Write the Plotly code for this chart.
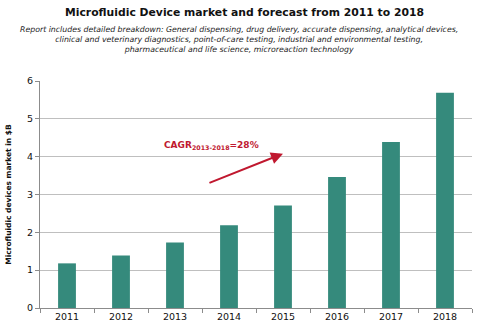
import plotly.graph_objects as go

years = ["2011", "2012", "2013", "2014", "2015", "2016", "2017", "2018"]
market = [1.18, 1.39, 1.73, 2.19, 2.71, 3.46, 4.39, 5.69]
y_ticks = [0, 1, 2, 3, 4, 5, 6]

bar_color = "#358A7C"
red = "#C0182F"

fig = go.Figure(go.Bar(x=years, y=market, marker_color=bar_color, marker_line_width=0))

fig.update_layout(
    width=480, height=334,
    margin=dict(l=40, r=8, t=81, b=26),
    paper_bgcolor="white", plot_bgcolor="white",
    bargap=0.67,
    showlegend=False,
    font=dict(family="DejaVu Sans", color="#222222"),
)
fig.update_xaxes(
    showline=True, linecolor="#8C8C8C", linewidth=1,
    ticks="outside", tickson="boundaries", ticklen=4, tickcolor="#8C8C8C",
    tickfont=dict(size=9.5, color="#111111"), showgrid=False,
)
fig.update_yaxes(
    range=[0, 6], tickvals=y_ticks, showline=True, linecolor="#8C8C8C", linewidth=1,
    ticks="outside", ticklen=4, tickcolor="#8C8C8C",
    gridcolor="#BFBFBF", gridwidth=1, zeroline=False,
    tickfont=dict(size=9.5, color="#111111"),
    title=dict(text="<b>Microfluidic devices market in $B</b>", font=dict(size=7.5, color="#111111"), standoff=14),
)

fig.add_annotation(
    xref="paper", yref="paper", x=0.5, y=1, yanchor="middle", xanchor="center",
    yshift=69, xshift=-12,
    text="<b>Microfluidic Device market and forecast from 2011 to 2018</b>",
    showarrow=False, font=dict(size=10.8, color="#111111"),
)
fig.add_annotation(
    xref="paper", yref="paper", x=0.5, y=1, yanchor="middle", xanchor="center",
    xshift=-17, yshift=42,
    text=("<i>Report includes detailed breakdown: General dispensing, drug delivery, accurate dispensing, analytical devices,<br>"
          "clinical and veterinary diagnostics, point-of-care testing, industrial and environmental testing,<br>"
          "pharmaceutical and life science, microreaction technology</i>"),
    showarrow=False, align="center", font=dict(size=7.8, color="#222222"),
)
# arrow
fig.add_annotation(
    x=4.0, y=4.08, ax=2.61, ay=3.29, xref="x", yref="y", axref="x", ayref="y",
    text="", showarrow=True, arrowhead=2, arrowsize=1.2, arrowwidth=2, arrowcolor=red,
)
fig.add_annotation(
    x=1.76, y=4.3, xref="x", yref="y", xanchor="left", yanchor="middle",
    text="<b>CAGR<sub>2013-2018</sub>=28%</b>", showarrow=False,
    font=dict(size=9, color=red),
)

fig.write_html("out.html")
